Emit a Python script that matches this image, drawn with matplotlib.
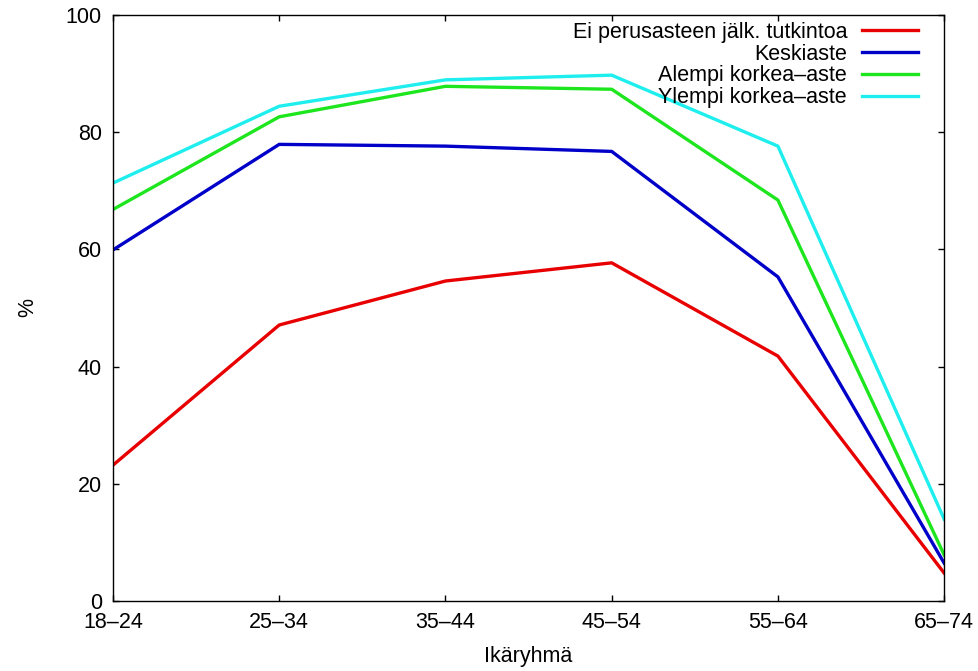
import matplotlib.pyplot as plt
import numpy as np

plt.rcParams["font.family"] = ["Liberation Sans", "DejaVu Sans"]

age_groups = ["18–24", "25–34", "35–44", "45–54", "55–64", "65–74"]
series_labels = [
    "Ei perusasteen jälk. tutkintoa",
    "Keskiaste",
    "Alempi korkea–aste",
    "Ylempi korkea–aste",
]
no_degree = [23.2, 47.1, 54.6, 57.7, 41.8, 4.8]
secondary = [59.9, 77.9, 77.6, 76.7, 55.3, 6.5]
lower_tertiary = [66.8, 82.6, 87.8, 87.3, 68.4, 7.9]
higher_tertiary = [71.3, 84.4, 88.9, 89.7, 77.6, 14.0]
colors = ["#e80000", "#0000c8", "#1ee61e", "#1eeeee"]

fig = plt.figure(figsize=(9.79, 6.71), dpi=100)
ax = fig.add_axes([0.1154, 0.104, 0.849, 0.874])

x = np.arange(len(age_groups))
for vals, lab, col in zip([no_degree, secondary, lower_tertiary, higher_tertiary],
                          series_labels, colors):
    ax.plot(x, vals, color=col, lw=2.4, label=lab)

ax.set_xlim(0, len(age_groups) - 1)
ax.set_ylim(0, 100)
ax.set_xticks(x)
ax.set_xticklabels(age_groups)
ax.set_yticks(np.arange(0, 101, 20))
ax.tick_params(direction="in", length=4, width=1, top=True, right=True,
               labelsize=15.5, pad=8)
for s in ax.spines.values():
    s.set_linewidth(1)
ax.set_xlabel("Ikäryhmä", fontsize=15.5, labelpad=9)
ax.set_ylabel("%", fontsize=15.5)
ax.yaxis.set_label_coords(-0.090, 0.5)

ax.legend(loc="upper right", bbox_to_anchor=(0.9687, 0.988), frameon=False,
          markerfirst=False, fontsize=15.5, handlelength=2.6, handletextpad=0.7,
          labelspacing=0.035, borderpad=0, borderaxespad=0)
leg = ax.get_legend()
for t in leg.get_texts():
    t.set_ha("right")
leg._legend_box.align = "right"

fig.savefig("out.png", dpi=100)
